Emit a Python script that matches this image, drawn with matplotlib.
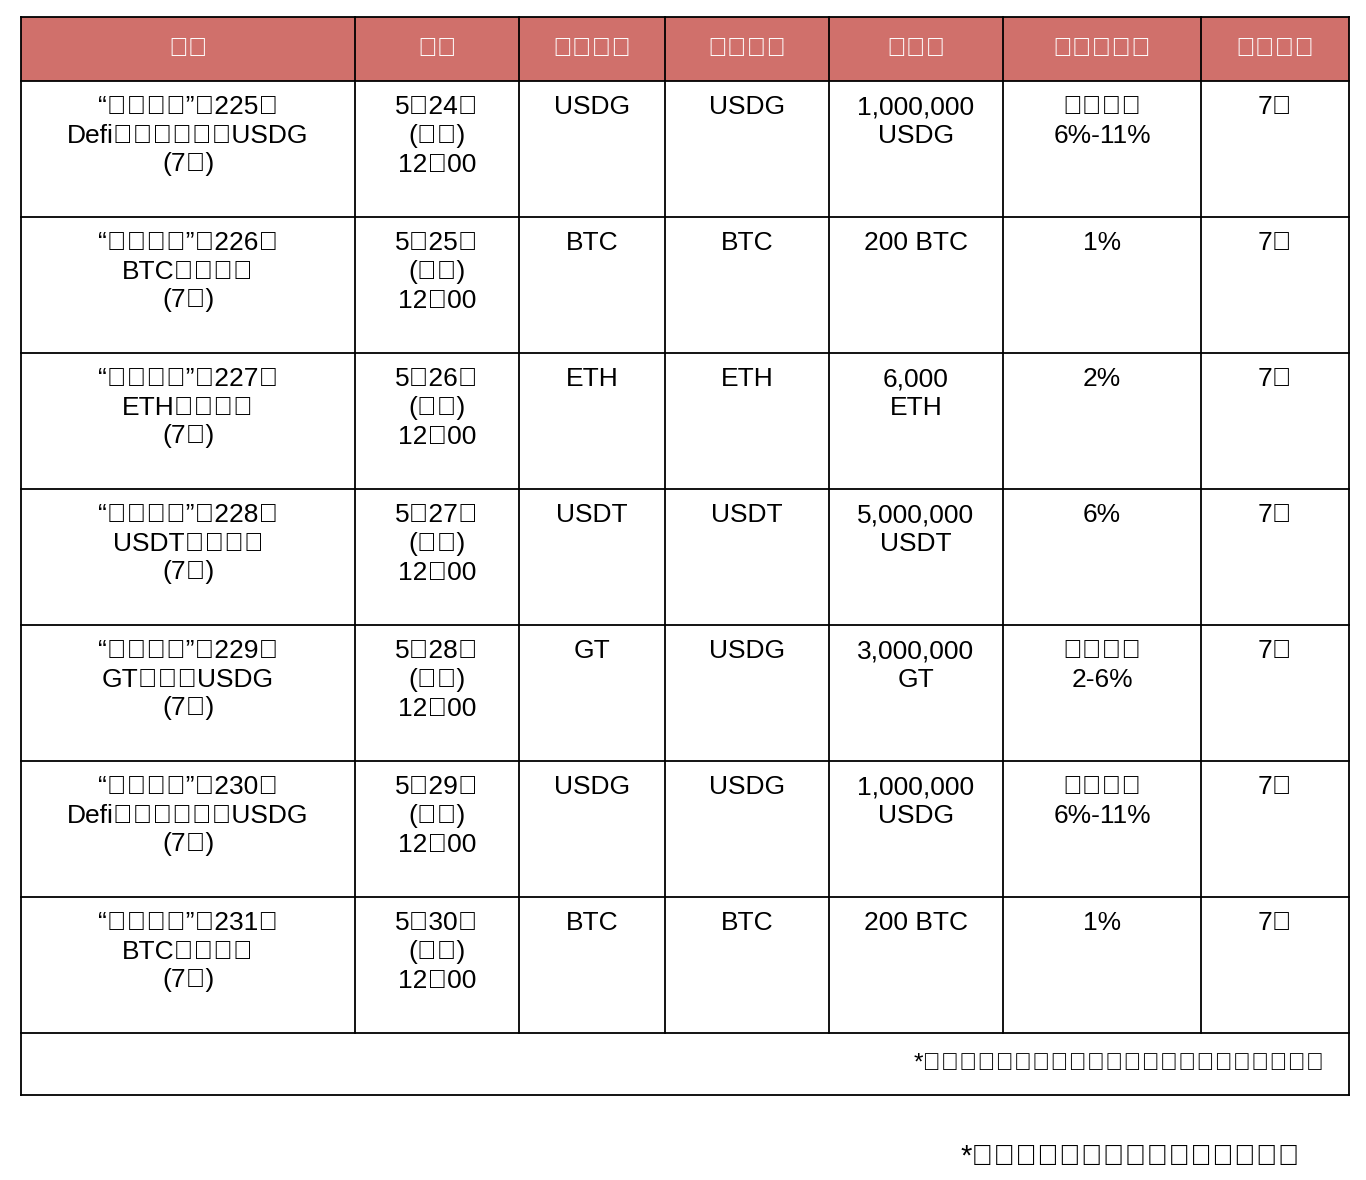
import matplotlib.pyplot as plt
from matplotlib.patches import Rectangle
from matplotlib import font_manager

# pick whatever CJK family the font manager actually knows about
cjk = [f.name for f in font_manager.fontManager.ttflist if 'CJK' in f.name]
fams = ['Noto Sans CJK SC', 'Noto Sans CJK JP', 'Noto Sans CJK TC', 'Noto Sans CJK KR']
fams = [f for f in fams if f in cjk] or sorted(set(cjk))
plt.rcParams['font.family'] = 'sans-serif'
plt.rcParams['font.sans-serif'] = ['Liberation Sans'] + fams + ['DejaVu Sans']

headers = ['名称', '时间', '持仓币种', '利息币种', '总额度', '币年化收益', '锁仓周期']
names = ['“天天理财”第225期\nDefi流动性挖矿赚USDG\n(7天)',
         '“天天理财”第226期\nBTC锁仓理财\n(7天)',
         '“天天理财”第227期\nETH锁仓理财\n(7天)',
         '“天天理财”第228期\nUSDT锁仓理财\n(7天)',
         '“天天理财”第229期\nGT锁仓挖USDG\n(7天)',
         '“天天理财”第230期\nDefi流动性挖矿赚USDG\n(7天)',
         '“天天理财”第231期\nBTC锁仓理财\n(7天)']
times = ['5月24日\n(周一)\n12：00', '5月25日\n(周二)\n12：00', '5月26日\n(周三)\n12：00',
         '5月27日\n(周四)\n12：00', '5月28日\n(周五)\n12：00', '5月29日\n(周六)\n12：00',
         '5月30日\n(周日)\n12：00']
hold = ['USDG', 'BTC', 'ETH', 'USDT', 'GT', 'USDG', 'BTC']
interest = ['USDG', 'BTC', 'ETH', 'USDT', 'USDG', 'USDG', 'BTC']
total = ['1,000,000\nUSDG', '200 BTC', '6,000\nETH', '5,000,000\nUSDT', '3,000,000\nGT',
         '1,000,000\nUSDG', '200 BTC']
rate = ['浮动利率\n6%-11%', '1%', '2%', '6%', '浮动利率\n2-6%', '浮动利率\n6%-11%', '1%']
period = ['7天'] * 7
footer = '*后续将上线更多理财计划，未完待续，敬请期待。'
note = '*最终利率以实际上线时显示的为准'

col_x = [21, 355, 519, 665, 829, 1003, 1201, 1349]
head_top, head_bot = 17, 81
row_h = 136
foot_bot = 1095

fig = plt.figure(figsize=(13.66, 11.8), dpi=100)
ax = fig.add_axes([0, 0, 1, 1])
ax.set_xlim(0, 1366)
ax.set_ylim(1180, 0)
ax.axis('off')

ax.add_patch(Rectangle((col_x[0], head_top), col_x[-1] - col_x[0], head_bot - head_top,
                       facecolor='#D0706B', edgecolor='none'))
for i, h in enumerate(headers):
    ax.text((col_x[i] + col_x[i + 1]) / 2, (head_top + head_bot) / 2, h, color='white',
            fontsize=19, fontweight='bold', ha='center', va='center')

columns = [names, times, hold, interest, total, rate, period]
n = len(names)
last = head_bot + n * row_h
for r in range(n):
    top = head_bot + r * row_h
    for c, col in enumerate(columns):
        ax.text((col_x[c] + col_x[c + 1]) / 2, top + 14, col[r], fontsize=19,
                ha='center', va='top', linespacing=1.25, color='black')

lw = 1.3
for y in [head_top] + [head_bot + r * row_h for r in range(n + 1)] + [foot_bot]:
    ax.plot([col_x[0], col_x[-1]], [y, y], color='black', lw=lw)
for i, x in enumerate(col_x):
    y1 = foot_bot if i in (0, len(col_x) - 1) else last
    ax.plot([x, x], [head_top, y1], color='black', lw=lw)

ax.text(1325, (last + foot_bot) / 2, footer, fontsize=17.5, ha='right', va='center')
ax.text(1300, 1157, note, fontsize=21, ha='right', va='center')

fig.savefig('out.png', dpi=100, facecolor='white')
